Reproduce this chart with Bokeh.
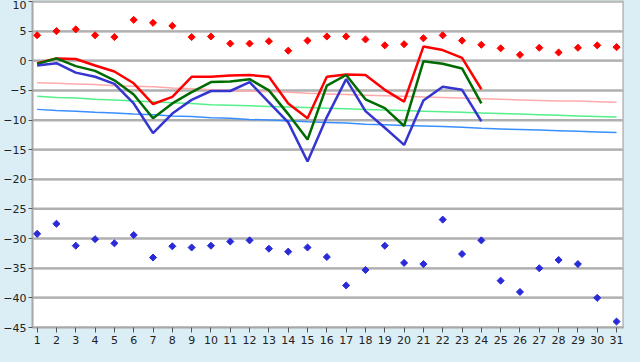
import math
from bokeh.plotting import figure
from bokeh.models import FixedTicker
from bokeh.embed import file_html
from bokeh.resources import INLINE

days = list(range(1, 32))
days24 = list(range(1, 25))

max_pts = [4.3, 5.0, 5.3, 4.3, 4.0, 6.9, 6.4, 5.9, 4.0, 4.1, 2.9, 2.9, 3.3, 1.7, 3.4, 4.1,
           4.1, 3.6, 2.6, 2.8, 3.8, 4.3, 3.4, 2.7, 2.1, 1.0, 2.2, 1.4, 2.2, 2.6, 2.3]
min_pts = [-29.2, -27.5, -31.2, -30.1, -30.8, -29.4, -33.2, -31.3, -31.5, -31.2, -30.5,
           -30.3, -31.7, -32.2, -31.5, -33.1, -37.9, -35.3, -31.2, -34.1, -34.3, -26.8,
           -32.6, -30.3, -37.1, -39.0, -35.0, -33.6, -34.3, -40.0, -44.0]

red_line = [-0.4, 0.4, 0.3, -0.8, -1.8, -3.8, -7.3, -6.1, -2.7, -2.7, -2.5, -2.4,
            -2.7, -7.2, -9.7, -2.7, -2.3, -2.4, -4.9, -6.9, 2.4, 1.8, 0.5, -4.8]
green_line = [-0.55, 0.4, -0.9, -1.7, -3.3, -5.7, -9.7, -7.2, -5.3, -3.6, -3.5, -3.1,
              -5.0, -9.0, -13.3, -4.2, -2.4, -6.5, -8.0, -11.0, -0.1, -0.5, -1.3, -7.2]
blue_line = [-0.8, -0.4, -2.0, -2.7, -3.9, -7.2, -12.2, -8.9, -6.6, -5.1, -5.1, -3.6,
             -7.0, -10.4, -17.0, -9.5, -3.1, -8.5, -11.3, -14.2, -6.7, -4.4, -4.9, -10.2]

pink_norm = [-3.7, -3.8, -3.9, -4.0, -4.2, -4.3, -4.4, -4.6, -4.7, -4.9, -5.0, -5.1, -5.2,
             -5.3, -5.5, -5.6, -5.7, -5.8, -5.9, -6.0, -6.1, -6.2, -6.3, -6.4, -6.5, -6.6,
             -6.7, -6.8, -6.8, -6.9, -7.0]
lgreen_norm = [-6.0, -6.2, -6.3, -6.5, -6.6, -6.8, -6.9, -7.1, -7.2, -7.4, -7.5, -7.6, -7.7,
               -7.8, -7.9, -8.0, -8.1, -8.2, -8.3, -8.4, -8.5, -8.6, -8.7, -8.8, -8.9, -9.0,
               -9.1, -9.2, -9.3, -9.4, -9.5]
lblue_norm = [-8.2, -8.4, -8.5, -8.7, -8.8, -9.0, -9.1, -9.3, -9.4, -9.6, -9.7, -9.9, -10.0,
              -10.1, -10.3, -10.4, -10.5, -10.7, -10.8, -10.9, -11.0, -11.1, -11.2, -11.4,
              -11.5, -11.6, -11.7, -11.8, -11.9, -12.0, -12.1]

y_ticks = [10, 5, 0, -5, -10, -15, -20, -25, -30, -35, -40, -45]
x_lo, x_hi = 0.76, 31.36

BG = "#dbeef5"
GRID = "#b0b0b0"

p = figure(width=624, height=346, output_backend="svg", toolbar_location=None,
           x_range=(x_lo, x_hi), y_range=(-45, 10),
           min_border_left=25, min_border_right=1, min_border_top=1, min_border_bottom=0)
p.border_fill_color = BG
p.background_fill_color = "#ffffff"
p.outline_line_color = "#bcbcbc"
p.outline_line_width = 2

p.yaxis.ticker = FixedTicker(ticks=y_ticks)
p.xaxis.ticker = FixedTicker(ticks=days)
p.xgrid.visible = False
p.ygrid.grid_line_color = GRID
p.ygrid.grid_line_width = 2

for ax in (p.xaxis, p.yaxis):
    ax.axis_line_color = "#a8a8a8"
    ax.axis_line_width = 1.5
    ax.major_tick_line_color = "#555555"
    ax.minor_tick_line_color = None
    ax.major_tick_in = 0
    ax.major_label_text_font = "DejaVu Sans"
    ax.major_label_text_font_size = "11px"
    ax.major_label_text_color = "#222222"
p.xaxis.major_tick_out = 5
p.yaxis.major_tick_out = 4
p.xaxis.major_label_standoff = 3
p.yaxis.major_label_standoff = 2
p.yaxis.major_label_overrides = {t: str(t).replace("-", "\u2212") for t in y_ticks}

# horizontal grid lines drawn as segments across the x range
n = len(y_ticks)
p.segment(x0=[x_lo] * n, x1=[x_hi] * n, y0=y_ticks, y1=y_ticks,
          line_color=GRID, line_width=2)
# frame border (right and top)
p.segment(x0=[x_hi, x_lo], x1=[x_hi, x_hi], y0=[-45, 10], y1=[10, 10],
          line_color="#c0c0c0", line_width=2)

p.line(days, pink_norm, line_color="#ffaaaa", line_width=1.5)
p.line(days, lgreen_norm, line_color="#55f08a", line_width=1.5)
p.line(days, lblue_norm, line_color="#3a8fff", line_width=1.5)

p.line(days24, red_line, line_color="#ff0000", line_width=2.5)
p.line(days24, green_line, line_color="#006b00", line_width=2.5)
p.line(days24, blue_line, line_color="#3535d0", line_width=2.5)

p.scatter(days, max_pts, marker="square", angle=math.pi / 4, size=5, color="#ff0000")
p.scatter(days, min_pts, marker="square", angle=math.pi / 4, size=5, color="#2a2ad8")

html = file_html(p, INLINE)
html = html.replace("<head>", "<head><style>body{background:%s;}</style>" % BG, 1)
open("out.html", "w").write(html)
